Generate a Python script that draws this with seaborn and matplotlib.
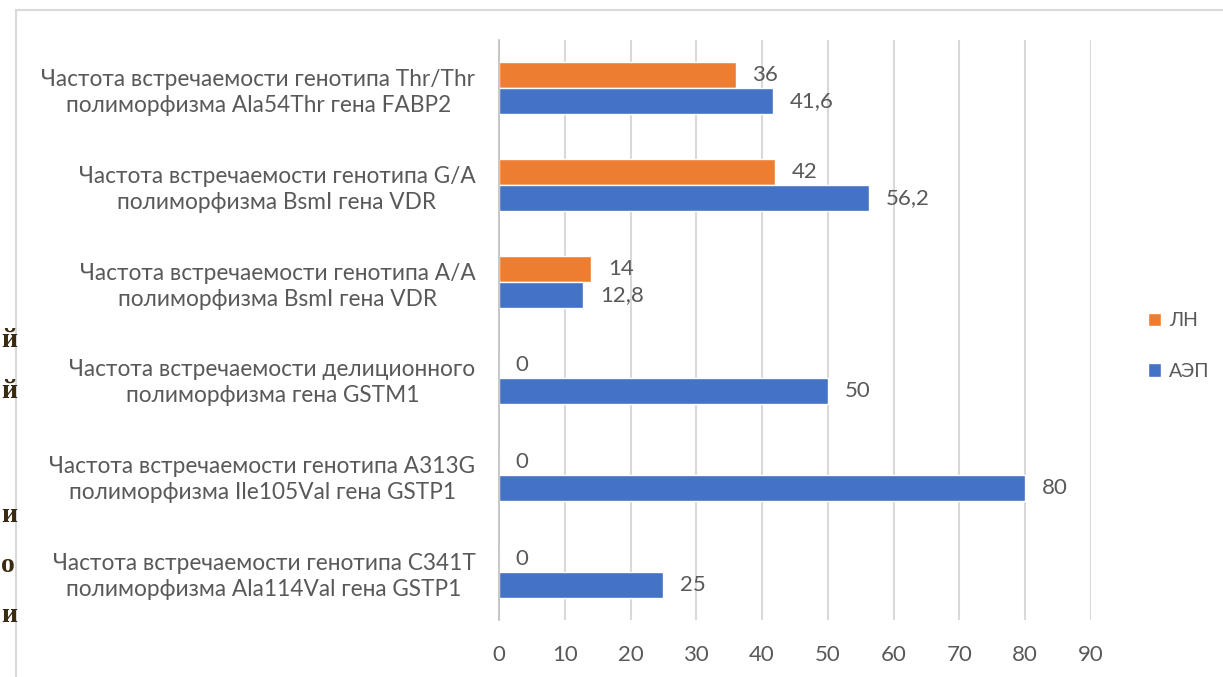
import matplotlib
matplotlib.use('Agg')
import matplotlib.pyplot as plt
import matplotlib.patches as patches
import seaborn as sns
import pandas as pd

# categories (top to bottom)
categories = [
    'Частота встречаемости генотипа Thr/Thr\nполиморфизма Ala54Thr гена FABP2',
    'Частота встречаемости генотипа G/A\nполиморфизма BsmI гена VDR',
    'Частота встречаемости генотипа A/A\nполиморфизма BsmI гена VDR',
    'Частота встречаемости делиционного\nполиморфизма гена GSTM1',
    'Частота встречаемости генотипа A313G\nполиморфизма Ile105Val гена GSTP1',
    'Частота встречаемости генотипа C341T\nполиморфизма Ala114Val гена GSTP1',
]
ln_values = [36, 42, 14, 0, 0, 0]
aep_values = [41.6, 56.2, 12.8, 50, 80, 25]
series = ['ЛН', 'АЭП']
colors = ['#ED7D31', '#4472C4']
x_ticks = [0, 10, 20, 30, 40, 50, 60, 70, 80, 90]

df = pd.DataFrame({
    'cat': categories * 2,
    'val': ln_values + aep_values,
    'series': [series[0]] * len(categories) + [series[1]] * len(categories),
})

sns.set_style('white')
plt.rcParams['font.family'] = ['Lato', 'DejaVu Sans']
txt = '#595959'

fig = plt.figure(figsize=(12.23, 6.77), dpi=100)
ax = fig.add_axes([499 / 1223, 1 - 620 / 677, (1091 - 499) / 1223, 580 / 677])

sns.barplot(data=df, y='cat', x='val', hue='series', hue_order=series,
            palette=colors, orient='h', width=0.54, saturation=1,
            order=categories, ax=ax, legend=True)

for cont in ax.containers:
    labels = [f'{v:g}'.replace('.', ',') for v in cont.datavalues]
    ax.bar_label(cont, labels=labels, padding=12, fontsize=16, color=txt)

ax.set_xlim(0, 90)
ax.set_xticks(x_ticks)
ax.set_xlabel('')
ax.set_ylabel('')
ax.grid(axis='x', color='#D9D9D9', lw=1.5)
ax.set_axisbelow(True)
for s in ['top', 'right', 'bottom']:
    ax.spines[s].set_visible(False)
ax.spines['left'].set_color('#BFBFBF')
ax.spines['left'].set_linewidth(1.2)
ax.tick_params(axis='x', length=0, pad=18, labelsize=16, labelcolor=txt)
ax.tick_params(axis='y', length=0, pad=17, labelsize=16.3, labelcolor=txt)
for t in ax.get_yticklabels():
    t.set_multialignment('center')
    t.set_linespacing(1.3)

leg = ax.legend(loc='center left', frameon=False, fontsize=14, labelcolor=txt,
                handlelength=0.7, handleheight=0.7, handletextpad=0.4,
                labelspacing=1.7)
leg.set_bbox_to_anchor((1130 / 1223, 1 - 346 / 677), transform=fig.transFigure)

# chart border
fig.patches.append(patches.Rectangle((16 / 1223, -0.1), 1.2, 1.1 - 10 / 677,
                                     transform=fig.transFigure, fill=False,
                                     ec='#D9D9D9', lw=1.5))

# fragments of the document behind the chart
for ypix, s in [(340, 'й'), (392, 'й'), (515, 'и'), (565, 'о'), (615, 'и')]:
    fig.text(1 / 1223, 1 - ypix / 677, s, ha='left', va='center',
             fontsize=20, color='#3A2A12', family='Liberation Serif',
             weight='bold')

fig.savefig('out.png', dpi=100)
